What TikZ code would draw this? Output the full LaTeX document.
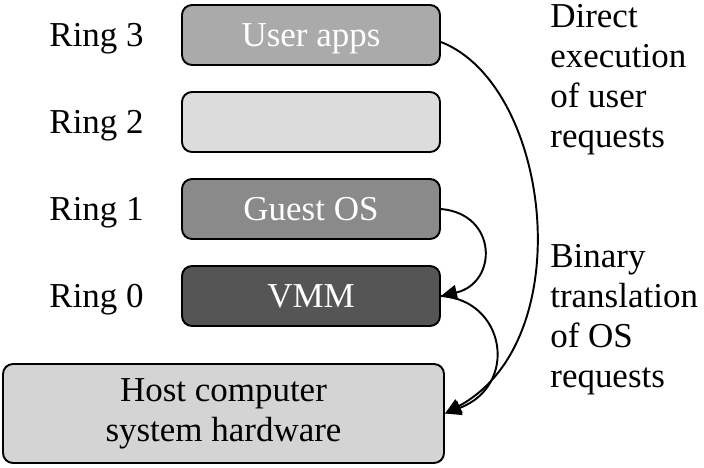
\documentclass[tikz,border=0pt]{standalone}
\usepackage{fontspec}
\setmainfont{Liberation Serif}
\usetikzlibrary{arrows.meta,positioning}

\tikzset{
  ringbox/.style={draw,line width=1.1pt,rounded corners=0.2cm,minimum width=5.16cm,minimum height=1.2cm,inner sep=0pt,text height=13pt,text depth=0pt},
  ringlabel/.style={inner sep=0pt,text height=13pt,text depth=0pt},
  sidetext/.style={inner sep=0pt,align=left,anchor=north west},
  arr/.style={line width=1.1pt,-{Triangle[length=0.32cm,width=0.3cm]}}
}

\begin{document}
\begin{tikzpicture}[font=\fontsize{19.9pt}{22.8pt}\selectfont]
\useasboundingbox (0,0) rectangle (14.08,-9.34);

% Rings
\node[ringbox,fill={rgb,255:red,170;green,170;blue,170},text=white] (user) at (6.22,-0.70) {User apps};
\node[ringbox,fill={rgb,255:red,220;green,220;blue,220}] (ring2) at (6.22,-2.44) {};
\node[ringbox,fill={rgb,255:red,138;green,138;blue,138},text=white] (guest) at (6.22,-4.18) {Guest OS};
\node[ringbox,fill={rgb,255:red,85;green,85;blue,85},text=white] (vmm) at (6.22,-5.92) {VMM};

% Ring labels
\node[ringlabel,left=0.74cm of user] (r3) {Ring 3};
\node[ringlabel,left=0.74cm of ring2] (r2) {Ring 2};
\node[ringlabel,left=0.74cm of guest] (r1) {Ring 1};
\node[ringlabel,left=0.74cm of vmm] (r0) {Ring 0};

% Hardware
\node[draw,line width=1.1pt,rounded corners=0.2cm,minimum width=8.82cm,minimum height=1.98cm,
  fill={rgb,255:red,212;green,212;blue,212},align=center] (host) at (4.47,-8.27) {Host computer\\system hardware};

% Side notes
\node[sidetext] (direct) at (11.0,-0.08) {Direct\\execution\\of user\\requests};
\node[sidetext] (binary) at (11.0,-4.88) {Binary\\translation\\of OS\\requests};

% Arrows
\draw[arr] ([yshift=-0.14cm]user.east) .. controls +(2.2,-0.86) and +(2.72,1.46) .. (host.east);
\draw[arr] (guest.east) .. controls +(1.14,-0.1) and +(1.14,0.26) .. (vmm.east);
\draw[arr] (vmm.east) .. controls +(1.3,-0.08) and +(1.48,0.56) .. (host.east);
\end{tikzpicture}
\end{document}
